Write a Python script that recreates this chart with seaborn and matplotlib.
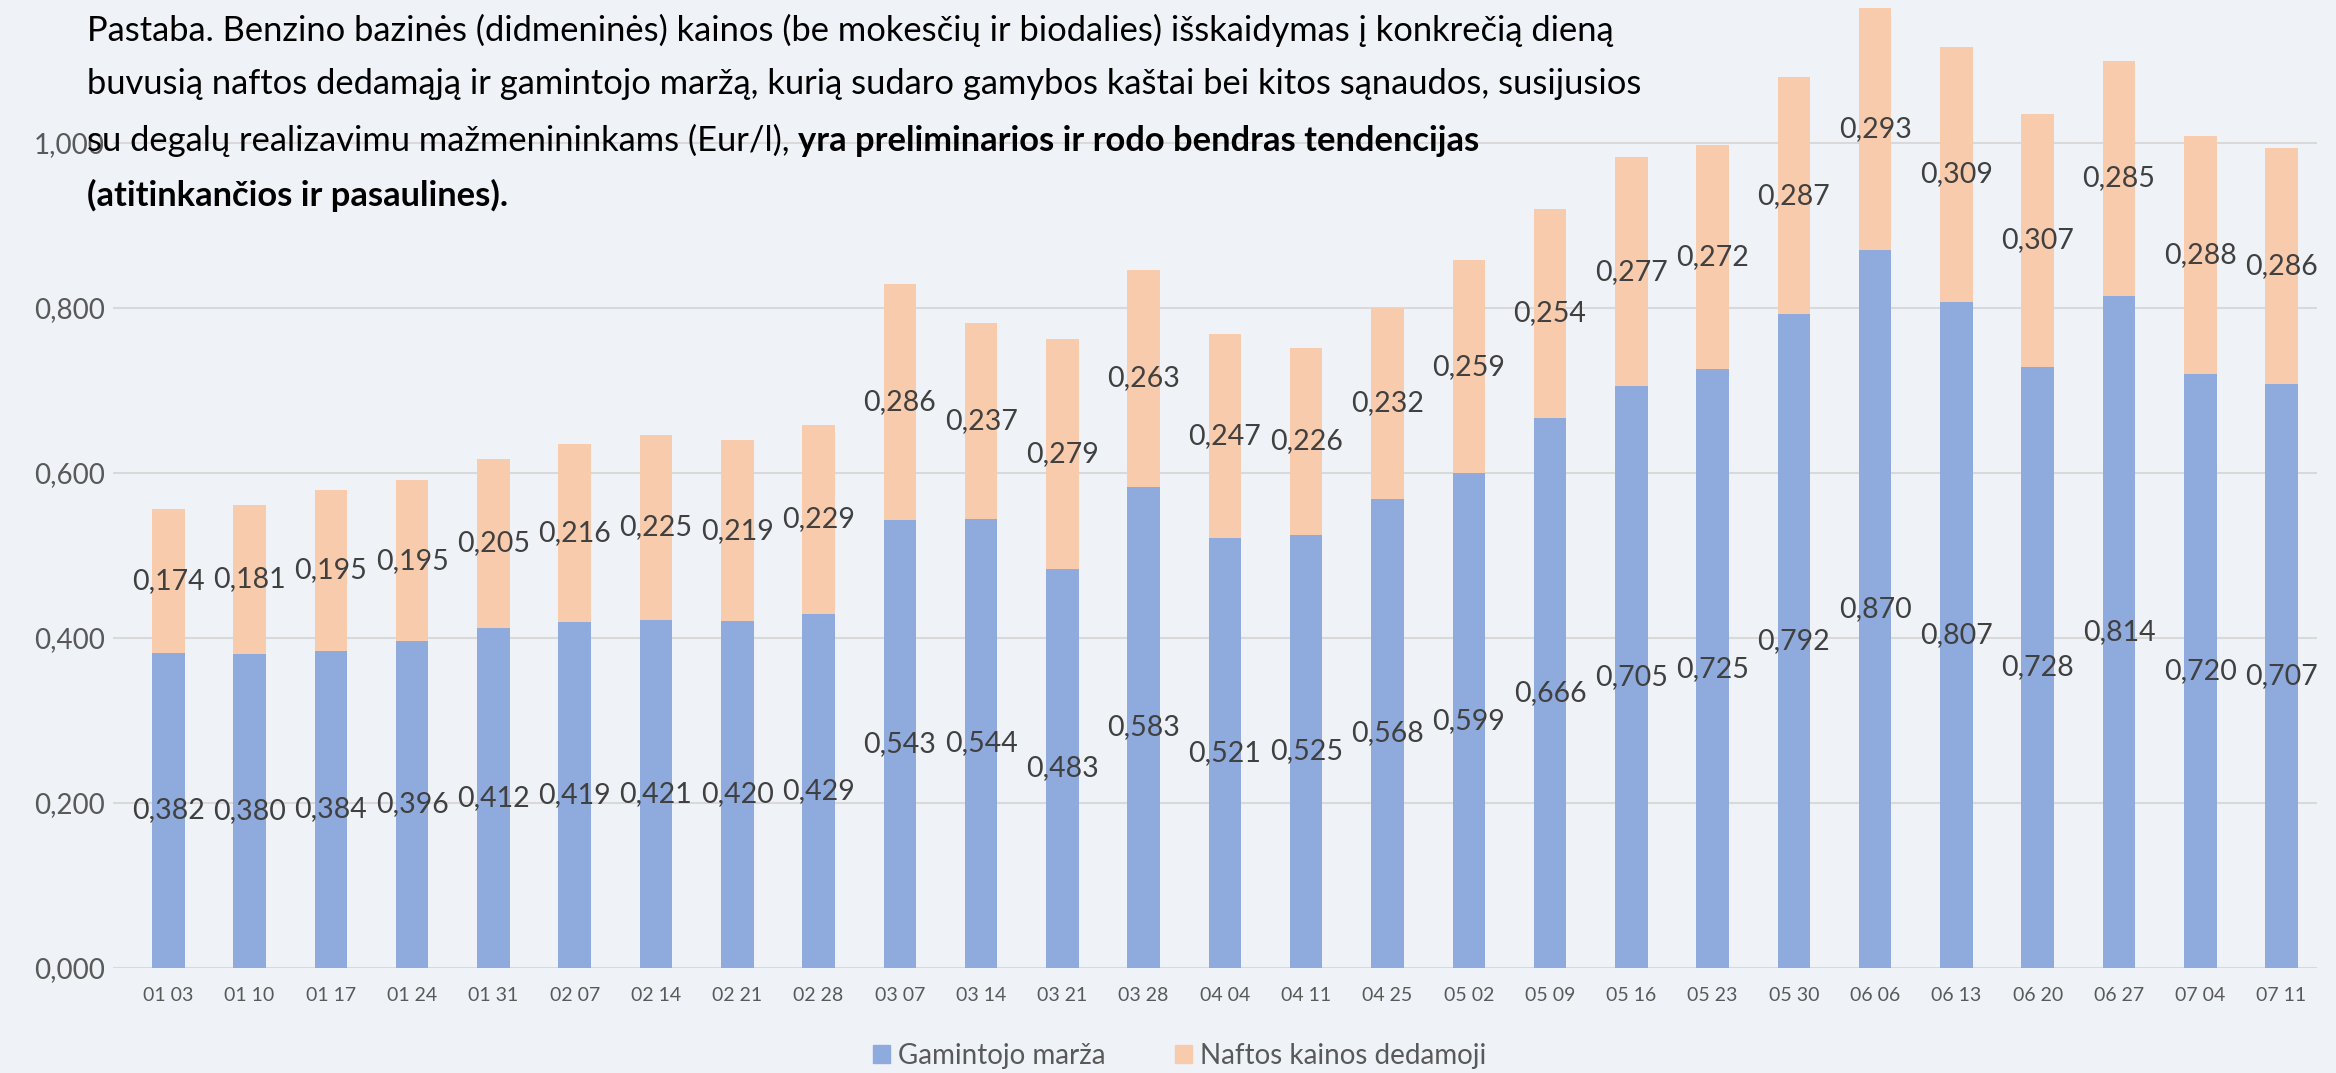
import matplotlib
matplotlib.use("Agg")
import matplotlib.pyplot as plt
import pandas as pd
import numpy as np
import seaborn as sns
from matplotlib.patches import Patch

# Data
dates = ["01 03", "01 10", "01 17", "01 24", "01 31", "02 07", "02 14", "02 21", "02 28",
         "03 07", "03 14", "03 21", "03 28", "04 04", "04 11", "04 25", "05 02", "05 09",
         "05 16", "05 23", "05 30", "06 06", "06 13", "06 20", "06 27", "07 04", "07 11"]
marza = [0.382, 0.380, 0.384, 0.396, 0.412, 0.419, 0.421, 0.420, 0.429,
         0.543, 0.544, 0.483, 0.583, 0.521, 0.525, 0.568, 0.599, 0.666,
         0.705, 0.725, 0.792, 0.870, 0.807, 0.728, 0.814, 0.720, 0.707]
nafta = [0.174, 0.181, 0.195, 0.195, 0.205, 0.216, 0.225, 0.219, 0.229,
         0.286, 0.237, 0.279, 0.263, 0.247, 0.226, 0.232, 0.259, 0.254,
         0.277, 0.272, 0.287, 0.293, 0.309, 0.307, 0.285, 0.288, 0.286]
y_ticks = [0.0, 0.2, 0.4, 0.6, 0.8, 1.0]

BLUE = "#8FAADC"
ORANGE = "#F8CBAD"
BG = "#EFF3F7"
TXT = "#404040"

df = pd.DataFrame({"data": dates, "marza": marza, "nafta": nafta})
df["viso"] = df["marza"] + df["nafta"]

sns.set_style("white")
plt.rcParams["font.family"] = ["Lato", "DejaVu Sans"]

fig = plt.figure(figsize=(23.36, 10.73), dpi=100, facecolor=BG)
ax = fig.add_axes([0.0484, 0.098, 0.9436, 0.902])
ax.set_facecolor(BG)

# stacked bars: total (orange) first, then the margin (blue) over it
sns.barplot(data=df, x="data", y="viso", color=ORANGE, saturation=1, width=0.4,
            linewidth=0, ax=ax)
sns.barplot(data=df, x="data", y="marza", color=BLUE, saturation=1, width=0.4,
            linewidth=0, ax=ax)

ax.set_xlim(-0.68, len(dates) - 0.56)
ax.set_ylim(0, 1.1727)
ax.set_yticks(y_ticks)
ax.set_yticklabels([f"{v:.3f}".replace(".", ",") for v in y_ticks], fontsize=20, color="#595959")
ax.tick_params(axis="x", labelsize=14, colors="#595959", length=0, pad=14)
ax.tick_params(axis="y", length=0, pad=6)
ax.grid(axis="y", color="#D9D9D9", linewidth=1.5)
ax.set_axisbelow(True)
for s in ax.spines.values():
    s.set_visible(False)
ax.set_xlabel("")
ax.set_ylabel("")

# value labels centred in each segment
for i, r in df.iterrows():
    ax.text(i, r["marza"] / 2, f"{r['marza']:.3f}".replace(".", ","),
            ha="center", va="center", fontsize=20.5, color=TXT)
    ax.text(i, r["marza"] + r["nafta"] / 2, f"{r['nafta']:.3f}".replace(".", ","),
            ha="center", va="center", fontsize=20.5, color=TXT)

# note on top of the chart, last part in bold
fs = 24.8
x0 = 0.0372
fig.text(x0, 0.972, "Pastaba. Benzino bazinės (didmeninės) kainos (be mokesčių ir biodalies) "
         "išskaidymas į konkrečią dieną", fontsize=fs, color="black", va="center")
fig.text(x0, 0.922, "buvusią naftos dedamąją ir gamintojo maržą, kurią sudaro gamybos kaštai "
         "bei kitos sąnaudos, susijusios", fontsize=fs, color="black", va="center")
t3 = fig.text(x0, 0.8695, "su degalų realizavimu mažmenininkams (Eur/l), ",
              fontsize=fs, color="black", va="center")
ax.annotate("yra preliminarios ir rodo bendras tendencijas", xy=(1, 0), xycoords=t3,
            va="bottom", ha="left", fontsize=fs, fontweight="bold", color="black")
fig.text(x0, 0.818, "(atitinkančios ir pasaulines).", fontsize=fs,
         fontweight="bold", color="black", va="center")

handles = [Patch(color=BLUE, label="Gamintojo marža"),
           Patch(color=ORANGE, label="Naftos kainos dedamoji")]
fig.legend(handles=handles, loc="center", bbox_to_anchor=(0.505, 0.016), ncol=2,
           frameon=False, fontsize=20, labelcolor="#595959", handlelength=0.6,
           handleheight=0.6, handletextpad=0.3, columnspacing=2.5)

fig.savefig("out.png", dpi=100, facecolor=BG)
